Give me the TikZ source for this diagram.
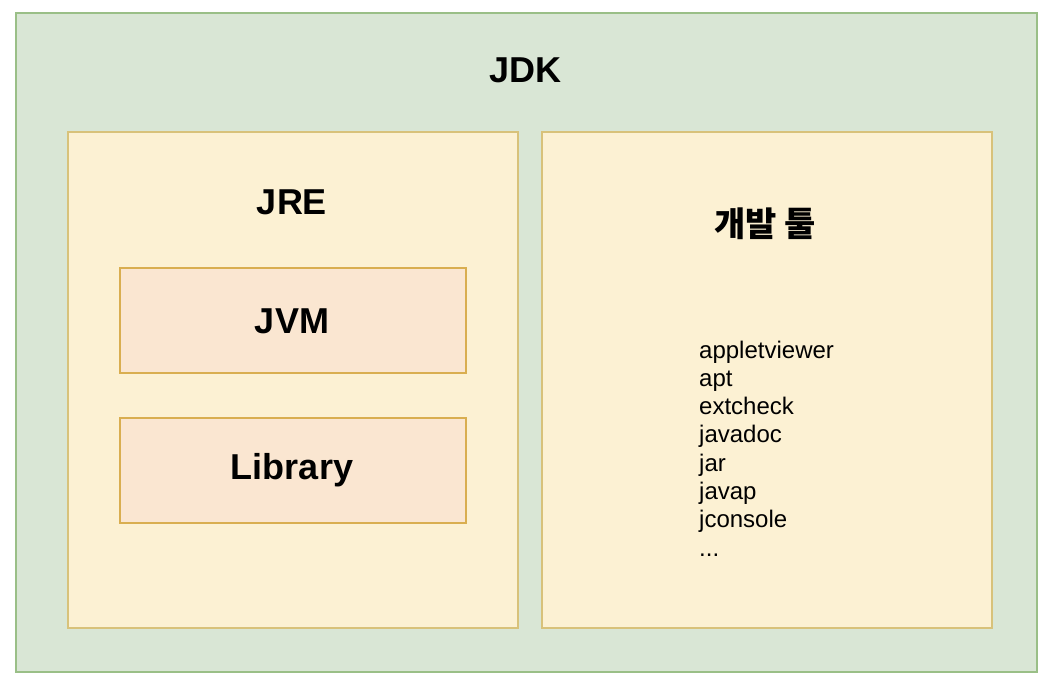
\documentclass[tikz,border=0pt]{standalone}
\usepackage{fontspec}
\setmainfont{Liberation Sans}
\newfontfamily\krfont{Noto Sans CJK KR}
\definecolor{gfill}{HTML}{D9E6D5}
\definecolor{gline}{HTML}{9ABF87}
\definecolor{yfill}{HTML}{FCF1D3}
\definecolor{yline}{HTML}{D8C27A}
\definecolor{ofill}{HTML}{FAE6D1}
\definecolor{oline}{HTML}{D9AE50}
\begin{document}
\begin{tikzpicture}[x=1pt,y=-1pt,
  outerbox/.style={draw=gline,fill=gfill,line width=2pt},
  ybox/.style={draw=yline,fill=yfill,line width=2pt},
  obox/.style={draw=oline,fill=ofill,line width=2pt},
  title/.style={font=\fontsize{36}{40}\selectfont\bfseries,inner sep=0pt},
  listtext/.style={font=\fontsize{24}{28.3}\selectfont,align=left,inner sep=0pt,anchor=north west}]
\useasboundingbox[fill=white] (0,0) rectangle (1056,692);
\draw[outerbox] (16,13) rectangle (1037,672);
\draw[ybox] (68,132) rectangle (518,628);
\draw[ybox] (542,132) rectangle (992,628);
\draw[obox] (120,268) rectangle (466,373);
\draw[obox] (120,418) rectangle (466,523);
\node[title] (jdk) at (525,70) {JDK};
\node[title] (jre) at (292,202) {JRE};
\node[title] (jvm) at (292,321) {JVM};
\node[title] (lib) at (292,470) {Library};
\node[font=\krfont\fontsize{34}{38}\selectfont\bfseries,inner sep=0pt] (dev) at (765,224) {개발 툴};
\node[listtext] (tools) at (699,340.5) {appletviewer\\apt\\extcheck\\javadoc\\jar\\javap\\jconsole\\...};
\end{tikzpicture}
\end{document}
